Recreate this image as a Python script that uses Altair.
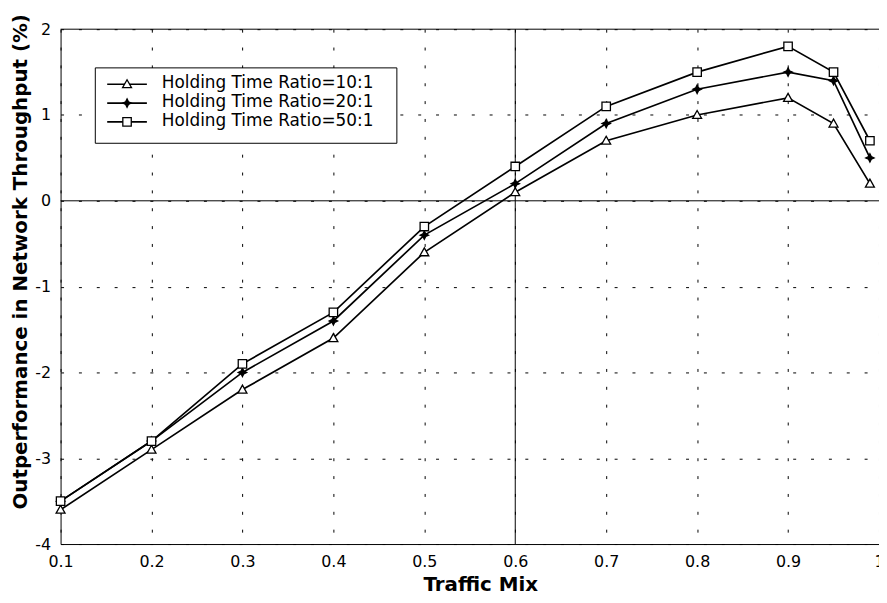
import altair as alt
import pandas as pd

x_vals = [0.1, 0.2, 0.3, 0.4, 0.5, 0.6, 0.7, 0.8, 0.9, 0.95, 0.99]
ratio_10 = [-3.6, -2.9, -2.2, -1.6, -0.6, 0.1, 0.7, 1.0, 1.2, 0.9, 0.2]
ratio_20 = [-3.5, -2.8, -2.0, -1.4, -0.4, 0.2, 0.9, 1.3, 1.5, 1.4, 0.5]
ratio_50 = [-3.5, -2.8, -1.9, -1.3, -0.3, 0.4, 1.1, 1.5, 1.8, 1.5, 0.7]
series = ["Holding Time Ratio=10:1", "Holding Time Ratio=20:1", "Holding Time Ratio=50:1"]
x_ticks = [0.1, 0.2, 0.3, 0.4, 0.5, 0.6, 0.7, 0.8, 0.9, 1.0]
y_ticks = [-4, -3, -2, -1, 0, 1, 2]
h_rules = [0, 2]
v_rules = [0.6]

rows = []
for name, vals in zip(series, [ratio_10, ratio_20, ratio_50]):
    for xv, yv in zip(x_vals, vals):
        rows.append({"x": xv, "y": yv, "series": name})
df = pd.DataFrame(rows)
df_h = pd.DataFrame({"y": h_rules})
df_v = pd.DataFrame({"x": v_rules})

# marker shapes (unit paths)
point_paths = [
    "M0,-0.9L0.9,0.7L-0.9,0.7Z",
    "M0,-0.85L0.28,-0.28L0.85,0L0.28,0.28L0,0.85L-0.28,0.28L-0.85,0L-0.28,-0.28Z",
    "M-0.85,-0.85L0.85,-0.85L0.85,0.85L-0.85,0.85Z",
]
fills = ["white", "black", "white"]

x_scale = alt.Scale(domain=[0.1, 1.0], nice=False, zero=False)
y_scale = alt.Scale(domain=[-4, 2], nice=False, zero=False)

x_axis = alt.Axis(
    values=x_ticks, labelExpr="datum.value", title="Traffic Mix", labelPadding=10,
    labelFlush=False, titleX=423, titleY=47, titleBaseline="alphabetic",
    titleAlign="center",
)
y_axis = alt.Axis(
    values=y_ticks, labelExpr="datum.value",
    title="Outperformance in Network Throughput (%)",
    labelPadding=10, labelFlush=False, titleX=-34, titleY=234, titleAngle=270,
    titleBaseline="alphabetic", titleAlign="center",
)

X = alt.X("x:Q", scale=x_scale, axis=x_axis)
Y = alt.Y("y:Q", scale=y_scale, axis=y_axis)

hrule = alt.Chart(df_h).mark_rule(color="black", strokeWidth=1).encode(y=Y)
vrule = alt.Chart(df_v).mark_rule(color="black", strokeWidth=1).encode(x=X)

lines = alt.Chart(df).mark_line(color="black", strokeWidth=1.7).encode(
    x=X, y=Y, detail="series:N"
)

points = alt.Chart(df).mark_point(
    filled=True, stroke="black", strokeWidth=1.3, size=100, opacity=1
).encode(
    x=X, y=Y,
    shape=alt.Shape("series:N", scale=alt.Scale(domain=series, range=point_paths), legend=None),
    fill=alt.Fill("series:N", scale=alt.Scale(domain=series, range=fills), legend=None),
)

# manual legend (positions in pixels relative to plot area)
leg_layers = [
    alt.Chart(df_v).mark_rect(fill="white", stroke="black", strokeWidth=1).encode(
        x=alt.value(35), x2=alt.value(339), y=alt.value(39), y2=alt.value(115)
    )
]
row_y = [55.5, 74.5, 93.5]
for i, name in enumerate(series):
    yy = row_y[i]
    leg_layers.append(
        alt.Chart(df_v).mark_rule(color="black", strokeWidth=1.7).encode(
            x=alt.value(47), x2=alt.value(87), y=alt.value(yy)
        )
    )
    leg_layers.append(
        alt.Chart(df_v).mark_point(
            shape=point_paths[i], size=100, filled=True, fill=fills[i],
            stroke="black", strokeWidth=1.3, opacity=1,
        ).encode(x=alt.value(67), y=alt.value(yy))
    )
    leg_layers.append(
        alt.Chart(df_v).mark_text(
            text=name, align="left", baseline="middle", font="DejaVu Sans",
            fontSize=17, color="black",
        ).encode(x=alt.value(102), y=alt.value(yy - 1))
    )

chart = alt.layer(hrule, vrule, lines, points, *leg_layers).resolve_scale(
    shape="independent", fill="independent"
).properties(
    width=825, height=519,
    background="white",
    autosize=alt.AutoSizeParams(type="none"),
    padding={"left": 53, "top": 19, "right": 0, "bottom": 49},
).configure_view(stroke=None).configure_axis(
    domainColor="black", domainWidth=1, gridColor="black", gridDash=[3, 15],
    gridOpacity=1, gridWidth=1, labelFont="DejaVu Sans", labelFontSize=16,
    labelColor="black", titleFont="DejaVu Sans", titleFontWeight="bold",
    titleFontSize=20, titleColor="black", ticks=False, tickSize=0,
)

chart.save("out.html", embed_options={"renderer": "svg", "actions": False})
